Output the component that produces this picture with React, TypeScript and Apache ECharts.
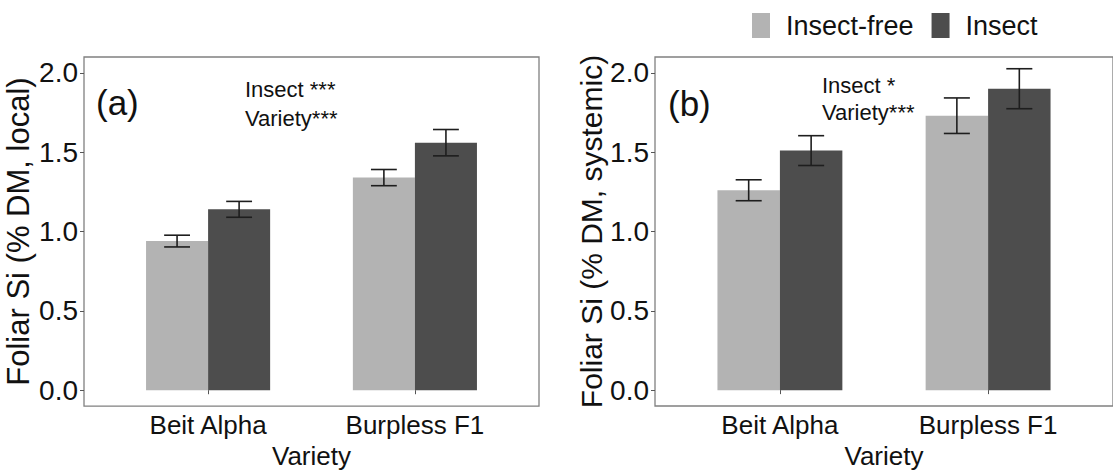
import React, { useEffect, useRef } from "react";
import * as echarts from "echarts";

const FONT = '"Liberation Sans", Arial, Helvetica, sans-serif';

// Varieties on the x axis (placed at positions 1 and 2)
const categories = ["Beit Alpha", "Burpless F1"];
const yTicks = [0, 0.5, 1, 1.5, 2];

// Panel (a): local leaves — means and standard errors
const localFreeMean = [0.94, 1.34];
const localFreeSe = [0.037, 0.051];
const localInsectMean = [1.14, 1.56];
const localInsectSe = [0.05, 0.083];

// Panel (b): systemic leaves — means and standard errors
const sysFreeMean = [1.26, 1.73];
const sysFreeSe = [0.066, 0.112];
const sysInsectMean = [1.51, 1.9];
const sysInsectSe = [0.094, 0.126];

const FREE_COLOR = "#b3b3b3";
const INSECT_COLOR = "#4d4d4d";
const BAR_HALF = 0.15;
const CAP_HALF = 0.0625;

function barWithError(
  name: string,
  color: string,
  offset: number,
  means: number[],
  ses: number[],
  gridIdx: number
) {
  return {
    type: "custom",
    name,
    xAxisIndex: gridIdx,
    yAxisIndex: gridIdx,
    itemStyle: { color },
    encode: { x: 0, y: 1 },
    data: means.map((m, i) => [i + 1, m, ses[i]]),
    renderItem: (_params: any, api: any) => {
      const x = api.value(0) + offset;
      const m = api.value(1);
      const se = api.value(2);
      const tl = api.coord([x - BAR_HALF, m]);
      const br = api.coord([x + BAR_HALF, 0]);
      const top = api.coord([x, m + se]);
      const bot = api.coord([x, m - se]);
      const cap = api.size([CAP_HALF, 0])[0];
      const err = { stroke: "#1e1e1e", lineWidth: 1.6 };
      return {
        type: "group",
        children: [
          {
            type: "rect",
            shape: { x: tl[0], y: tl[1], width: br[0] - tl[0], height: br[1] - tl[1] },
            style: { fill: color },
          },
          { type: "line", shape: { x1: top[0], y1: top[1], x2: bot[0], y2: bot[1] }, style: err },
          { type: "line", shape: { x1: top[0] - cap, y1: top[1], x2: top[0] + cap, y2: top[1] }, style: err },
          { type: "line", shape: { x1: bot[0] - cap, y1: bot[1], x2: bot[0] + cap, y2: bot[1] }, style: err },
        ],
      };
    },
  };
}

function xAxisFor(gridIndex: number) {
  return {
    type: "value",
    gridIndex,
    min: 0.4,
    max: 2.6,
    name: "Variety",
    nameLocation: "middle",
    nameGap: 34,
    nameTextStyle: { fontFamily: FONT, fontSize: 26, color: "#111" },
    axisLine: { show: false },
    splitLine: { show: false },
    axisTick: { show: true, length: 4, customValues: [1, 2], lineStyle: { color: "#555", width: 1 } },
    axisLabel: {
      customValues: [1, 2],
      margin: 6,
      fontFamily: FONT,
      fontSize: 26,
      color: "#111",
      formatter: (v: number) => categories[Math.round(v) - 1] ?? "",
    },
  };
}

function yAxisFor(gridIndex: number, title: string, titleSize: number, gap: number) {
  return {
    type: "value",
    gridIndex,
    min: -0.1,
    max: 2.1,
    name: title,
    nameLocation: "middle",
    nameRotate: 90,
    nameGap: gap,
    nameTextStyle: { fontFamily: FONT, fontSize: titleSize, color: "#111" },
    axisLine: { show: false },
    splitLine: { show: false },
    axisTick: { show: true, length: 4, customValues: yTicks, lineStyle: { color: "#555", width: 1 } },
    axisLabel: {
      customValues: yTicks,
      margin: 6,
      fontFamily: FONT,
      fontSize: 28,
      color: "#111",
      formatter: (v: number) => v.toFixed(1),
    },
  };
}

function textEl(text: string, x: number, y: number, size: number) {
  return {
    type: "text",
    x,
    y,
    style: { text, fontFamily: FONT, fontSize: size, fill: "#111", textVerticalAlign: "middle" },
  };
}

export default function App() {
  const ref = useRef<HTMLDivElement>(null);

  useEffect(() => {
    if (!ref.current) return;
    const chart = echarts.init(ref.current, null, { renderer: "svg" });
    chart.setOption({
      animation: false,
      backgroundColor: "#ffffff",
      legend: {
        data: ["Insect-free", "Insect"],
        left: 752,
        top: 12,
        padding: 0,
        icon: "rect",
        itemWidth: 18,
        itemHeight: 25,
        itemGap: 18,
        selectedMode: false,
        textStyle: { fontFamily: FONT, fontSize: 27, color: "#111", padding: [0, 0, 0, 11] },
      },
      grid: [
        { left: 84, top: 57, width: 455, height: 352, show: true, borderColor: "#808080", borderWidth: 1.3, backgroundColor: "transparent" },
        { left: 655, top: 57, width: 466, height: 349, show: true, borderColor: "#808080", borderWidth: 1.3, backgroundColor: "transparent" },
      ],
      xAxis: [xAxisFor(0), xAxisFor(1)],
      yAxis: [
        yAxisFor(0, "Foliar Si (% DM, local)", 31, 50),
        yAxisFor(1, "Foliar Si (% DM, systemic)", 30, 38),
      ],
      series: [
        barWithError("Insect-free", FREE_COLOR, -BAR_HALF, localFreeMean, localFreeSe, 0),
        barWithError("Insect", INSECT_COLOR, BAR_HALF, localInsectMean, localInsectSe, 0),
        barWithError("Insect-free", FREE_COLOR, -BAR_HALF, sysFreeMean, sysFreeSe, 1),
        barWithError("Insect", INSECT_COLOR, BAR_HALF, sysInsectMean, sysInsectSe, 1),
      ],
      graphic: [
        textEl("(a)", 96, 102, 35),
        textEl("Insect ***", 245, 89, 22),
        textEl("Variety***", 245, 118, 22),
        textEl("(b)", 668, 103, 35),
        textEl("Insect *", 822, 85, 22),
        textEl("Variety***", 822, 112, 22),
      ],
    });
    return () => chart.dispose();
  }, []);

  return (
    <div
      ref={ref}
      style={{ position: "fixed", left: 0, top: 0, width: 1113, height: 474, background: "#fff" }}
    />
  );
}
